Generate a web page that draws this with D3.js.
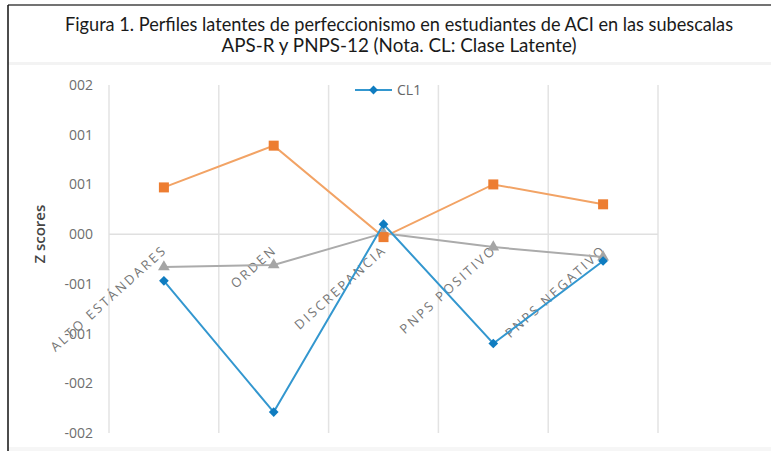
<!DOCTYPE html>
<html>
<head>
<meta charset="utf-8">
<script src="https://cdn.jsdelivr.net/npm/d3@7"></script>
<style>
  body { margin: 0; background: #fff; }
  svg { display: block; }
</style>
</head>
<body>
<div id="chart"></div>
<script>
// data
var categories = ["ALTO ESTÁNDARES", "ORDEN", "DISCREPANCIA", "PNPS POSITIVO", "PNPS NEGATIVO"];
var cl1 = [-0.47, -1.79, 0.10, -1.10, -0.27];
var cl2 = [0.47, 0.89, -0.03, 0.50, 0.30];
var cl3 = [-0.33, -0.31, 0.01, -0.13, -0.23];
var yTicks = [1.5, 1.0, 0.5, 0, -0.5, -1.0, -1.5, -2.0];
var yTickLabels = ["002", "001", "001", "000", "-001", "-001", "-002", "-002"];
var titleLines = ["Figura 1. Perfiles latentes de perfeccionismo en estudiantes de ACI en las subescalas",
                  "APS-R y PNPS-12 (Nota. CL: Clase Latente)"];

var W = 771, H = 451;
var margin = {top: 85, right: 113, bottom: 18, left: 109},
    width = W - margin.left - margin.right,
    height = H - margin.top - margin.bottom;

var root = d3.select("#chart").append("svg")
    .attr("width", W)
    .attr("height", H);

// frame + title band
root.append("rect").attr("x", 8).attr("y", 62).attr("width", W - 8).attr("height", 3).attr("fill", "#f3f3f3");
root.append("rect").attr("x", 8).attr("y", 447).attr("width", W - 8).attr("height", 4).attr("fill", "#f6f6f6");
root.append("line").attr("x1", 8).attr("x2", W).attr("y1", 5).attr("y2", 5)
    .attr("stroke", "#444").attr("stroke-width", 1.5);
root.append("line").attr("x1", 8).attr("x2", 8).attr("y1", 5).attr("y2", H)
    .attr("stroke", "#111").attr("stroke-width", 1.5);

root.selectAll(".title")
    .data(titleLines)
    .enter().append("text")
    .attr("class", "title")
    .attr("x", 399)
    .attr("y", function(d, i) { return 31 + i * 21; })
    .attr("text-anchor", "middle")
    .attr("textLength", function(d, i) { return i === 0 ? 668 : 355; })
    .attr("lengthAdjust", "spacingAndGlyphs")
    .style("font-family", "Lato, sans-serif")
    .style("font-size", "19px")
    .style("fill", "#1a1a1a")
    .text(function(d) { return d; });

var svg = root.append("g")
    .attr("transform", "translate(" + margin.left + "," + margin.top + ")");

var x = d3.scaleBand()
    .range([0, width])
    .domain(categories);

var y = d3.scaleLinear()
    .range([height, 0])
    .domain([-2, 1.5]);

// vertical gridlines at band edges
var edges = categories.map(function(d) { return x(d); }).concat([width]);
svg.selectAll(".vgrid")
    .data(edges)
    .enter().append("line")
    .attr("class", "vgrid")
    .attr("x1", function(d) { return d; })
    .attr("x2", function(d) { return d; })
    .attr("y1", 0)
    .attr("y2", height)
    .attr("stroke", "#e3e3e3")
    .attr("stroke-width", 1.5);

// zero line
svg.append("line")
    .attr("x1", 0).attr("x2", width)
    .attr("y1", y(0)).attr("y2", y(0))
    .attr("stroke", "#e0e0e0")
    .attr("stroke-width", 1.5);

// y axis labels
var yAxis = svg.append("g")
    .call(d3.axisLeft(y).tickValues(yTicks).tickSize(0).tickPadding(16)
        .tickFormat(function(d, i) { return yTickLabels[i]; }));
yAxis.select(".domain").remove();
yAxis.selectAll("text")
    .style("font-family", "'Open Sans', sans-serif")
    .style("font-size", "14px")
    .style("fill", "#6e6e6e");

svg.append("text")
    .attr("transform", "translate(-64," + y(0) + ") rotate(-90)")
    .attr("text-anchor", "middle")
    .style("font-family", "'Open Sans', sans-serif")
    .style("font-size", "15px")
    .style("font-weight", "600")
    .style("fill", "#444")
    .text("Z scores");

// category labels, rotated
svg.selectAll(".cat")
    .data(categories)
    .enter().append("text")
    .attr("class", "cat")
    .attr("transform", function(d) {
        return "translate(" + (x(d) + x.bandwidth() / 2 + 4) + "," + (y(0) + 17) + ") rotate(-42)";
    })
    .attr("text-anchor", "end")
    .style("font-family", "'Open Sans', sans-serif")
    .style("font-size", "13px")
    .style("letter-spacing", "2.4px")
    .style("fill", "#777")
    .text(function(d) { return d; });

var line = d3.line()
    .x(function(d, i) { return x(categories[i]) + x.bandwidth() / 2; })
    .y(function(d) { return y(d); });

// CL3 gray triangles
svg.append("path").datum(cl3)
    .attr("d", line).attr("fill", "none")
    .attr("stroke", "#ababab").attr("stroke-width", 2);
svg.selectAll(".m3").data(cl3).enter().append("path")
    .attr("class", "m3")
    .attr("transform", function(d, i) { return "translate(" + (x(categories[i]) + x.bandwidth() / 2) + "," + y(d) + ")"; })
    .attr("d", d3.symbol().type(d3.symbolTriangle).size(60))
    .attr("fill", "#a5a5a5");

// CL2 orange squares
svg.append("path").datum(cl2)
    .attr("d", line).attr("fill", "none")
    .attr("stroke", "#f2a365").attr("stroke-width", 2);
svg.selectAll(".m2").data(cl2).enter().append("rect")
    .attr("class", "m2")
    .attr("x", function(d, i) { return x(categories[i]) + x.bandwidth() / 2 - 5; })
    .attr("y", function(d) { return y(d) - 5; })
    .attr("width", 10).attr("height", 10)
    .attr("fill", "#ed7d31");

// CL1 blue diamonds
svg.append("path").datum(cl1)
    .attr("d", line).attr("fill", "none")
    .attr("stroke", "#3397cf").attr("stroke-width", 2);
svg.selectAll(".m1").data(cl1).enter().append("path")
    .attr("class", "m1")
    .attr("transform", function(d, i) { return "translate(" + (x(categories[i]) + x.bandwidth() / 2) + "," + y(d) + ")"; })
    .attr("d", d3.symbol().type(d3.symbolDiamond2).size(60))
    .attr("fill", "#0f7cc0");

// legend (only CL1 visible)
var lg = root.append("g").attr("transform", "translate(355,90)");
lg.append("line").attr("x1", 0).attr("x2", 37).attr("y1", 0).attr("y2", 0)
    .attr("stroke", "#3397cf").attr("stroke-width", 2);
lg.append("path").attr("transform", "translate(18.5,0)")
    .attr("d", d3.symbol().type(d3.symbolDiamond2).size(50))
    .attr("fill", "#0f7cc0");
lg.append("text").attr("x", 42).attr("y", 5)
    .style("font-family", "'Open Sans', sans-serif")
    .style("font-size", "14px")
    .style("fill", "#666")
    .text("CL1");
</script>
</body>
</html>
